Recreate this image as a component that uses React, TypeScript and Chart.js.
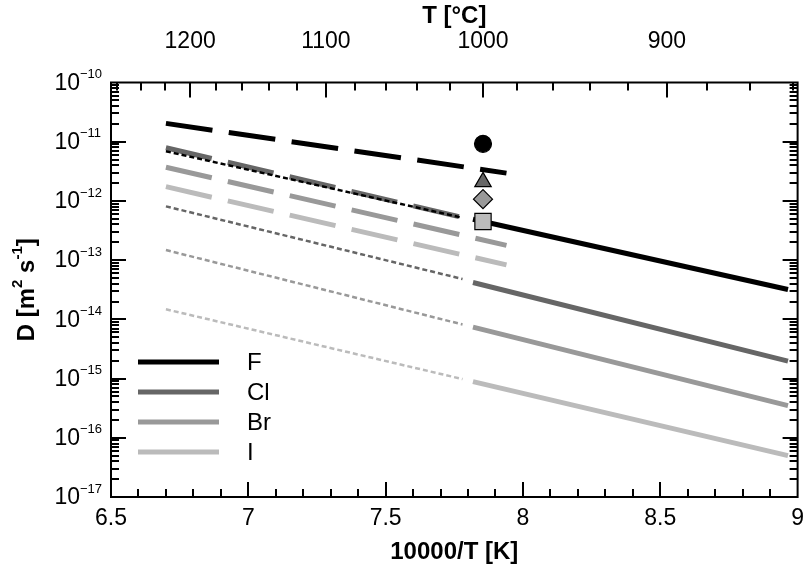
import React, { useEffect, useRef } from 'react';
import { Chart, registerables } from 'chart.js';

Chart.register(...registerables);

const FONT = "'Liberation Sans', Arial, Helvetica, sans-serif";

// Series names and colours
const elements = ['F', 'Cl', 'Br', 'I'];
const colors = ['#000000', '#666666', '#999999', '#bbbbbb'];
const markerStyles = ['circle', 'triangle', 'rectRot', 'rect'];
const markerRadii = [8.5, 9.5, 9.5, 11.5];

// Measured fits (solid)
const fitX = [7.818, 8.965];
const fitF = [4.9e-13, 3.2e-14];
const fitCl = [4.2e-14, 1.97e-15];
const fitBr = [7.4e-15, 3.5e-16];
const fitI = [8.9e-16, 5.0e-17];

// Extrapolations (dotted)
const extrapX = [6.7, 7.78];
const extrapF = [6.9e-12, 5.2e-13];
const extrapCl = [8.1e-13, 4.8e-14];
const extrapBr = [1.48e-13, 8.2e-15];
const extrapI = [1.48e-14, 9.8e-16];

// Model lines (long dashes)
const modelX = [6.7, 7.94];
const modelClX = [6.7, 7.77];
const modelF = [2.04e-11, 2.95e-12];
const modelCl = [7.9e-12, 5.4e-13];
const modelBr = [3.7e-12, 1.78e-13];
const modelI = [1.74e-12, 8.3e-14];

// Single points at 1000 °C
const pointX = 7.8545;
const pointValues = [9.2e-12, 2.1e-12, 1.07e-12, 4.5e-13];

// Tick labels
const celsiusTicks = [1200, 1100, 1000, 900];
const yExponents = [-17, -16, -15, -14, -13, -12, -11, -10];

const fits = [fitF, fitCl, fitBr, fitI];
const extraps = [extrapF, extrapCl, extrapBr, extrapI];
const models = [modelF, modelCl, modelBr, modelI];
const modelXs = [modelX, modelClX, modelX, modelX];

const toXY = (xs: number[], ys: number[]) => xs.map((x, i) => ({ x, y: ys[i] }));

const decorPlugin = {
  id: 'decor',
  afterDraw(chart: any) {
    const ctx: CanvasRenderingContext2D = chart.ctx;
    const a = chart.chartArea;
    const xs = chart.scales['x'];
    const ys = chart.scales['y'];
    const L = a.left, R = a.right, T = a.top, B = a.bottom;
    const MAJ = 15;
    const MIN = 8;
    ctx.save();
    ctx.setLineDash([]);
    ctx.lineDashOffset = 0;
    ctx.globalAlpha = 1;
    ctx.lineCap = 'butt';
    ctx.strokeStyle = '#000000';
    ctx.lineWidth = 2;

    const ticks: number[][] = [];
    // bottom ticks
    for (let i = 1; i < 25; i++) {
      const px = Math.round(xs.getPixelForValue(6.5 + i * 0.1));
      const len = i % 5 === 0 ? MAJ : MIN;
      ticks.push([px, B, px, B - len]);
    }
    // top (Celsius) ticks
    for (let c = 1260; c >= 840; c -= 20) {
      const v = 10000 / (c + 273.15);
      if (v <= 6.5 || v >= 9) continue;
      const px = Math.round(xs.getPixelForValue(v));
      const len = c % 100 === 0 ? MAJ : MIN;
      ticks.push([px, T, px, T + len]);
    }
    // left / right ticks
    for (let d = -17; d < -10; d++) {
      for (let k = 1; k <= 9; k++) {
        if (d === -17 && k === 1) continue;
        const py = Math.round(ys.getPixelForValue(k * Math.pow(10, d)));
        const len = k === 1 ? MAJ : MIN;
        ticks.push([L, py, L + len, py]);
        ticks.push([R, py, R - len, py]);
      }
    }
    ctx.beginPath();
    for (const t of ticks) {
      ctx.moveTo(t[0], t[1]);
      ctx.lineTo(t[2], t[3]);
    }
    ctx.stroke();

    // frame
    ctx.lineWidth = 2;
    ctx.strokeRect(L, T, R - L, B - T);

    // y tick labels with superscripts
    ctx.fillStyle = '#000';
    ctx.textBaseline = 'middle';
    for (const e of yExponents) {
      const py = ys.getPixelForValue(Math.pow(10, e));
      ctx.font = `23px ${FONT}`;
      ctx.textAlign = 'right';
      ctx.fillText('10', 80, py + 1);
      ctx.font = `13px ${FONT}`;
      ctx.textAlign = 'left';
      ctx.fillText('\u2212' + String(-e), 80, py - 8);
    }

    // y title
    ctx.save();
    ctx.translate(27, (T + B) / 2);
    ctx.rotate(-Math.PI / 2);
    const big = `bold 24px ${FONT}`;
    const small = `bold 15px ${FONT}`;
    const parts: [string, string, number][] = [
      ['D [m', big, 0],
      ['2', small, -9],
      [' s', big, 0],
      ['-1', small, -9],
      [']', big, 0],
    ];
    let total = 0;
    for (const [t, f] of parts) {
      ctx.font = f;
      total += ctx.measureText(t).width;
    }
    let cx = -total / 2;
    ctx.textAlign = 'left';
    ctx.textBaseline = 'middle';
    for (const [t, f, dy] of parts) {
      ctx.font = f;
      ctx.fillText(t, cx, dy);
      cx += ctx.measureText(t).width;
    }
    ctx.restore();

    // legend
    ctx.textAlign = 'left';
    ctx.textBaseline = 'middle';
    ctx.font = `24px ${FONT}`;
    elements.forEach((name, i) => {
      const ly = 362 + i * 30;
      ctx.strokeStyle = colors[i];
      ctx.lineWidth = 5;
      ctx.beginPath();
      ctx.moveTo(138, ly);
      ctx.lineTo(219, ly);
      ctx.stroke();
      ctx.fillStyle = '#000';
      ctx.fillText(name, 247, ly + 1);
    });
    ctx.restore();
  },
};

export default function App() {
  const ref = useRef<HTMLCanvasElement | null>(null);

  useEffect(() => {
    if (!ref.current) return;
    const datasets: any[] = [];
    // markers first so they are drawn on top
    elements.forEach((name, i) => {
      datasets.push({
        label: name + ' point',
        data: [{ x: pointX, y: pointValues[i] }],
        showLine: false,
        pointStyle: markerStyles[i],
        pointRadius: markerRadii[i],
        pointBackgroundColor: colors[i],
        pointBorderColor: '#000',
        pointBorderWidth: 1.2,
      });
    });
    elements.forEach((name, i) => {
      datasets.push({
        label: name,
        data: toXY(fitX, fits[i]),
        borderColor: colors[i],
        borderWidth: 5,
        pointRadius: 0,
        showLine: true,
        borderCapStyle: 'butt',
      });
    });
    elements.forEach((name, i) => {
      datasets.push({
        label: name + ' extrapolation',
        data: toXY(extrapX, extraps[i]),
        borderColor: colors[i],
        borderWidth: 2.5,
        borderDash: [5, 3],
        pointRadius: 0,
        showLine: true,
        borderCapStyle: 'butt',
      });
    });
    elements.forEach((name, i) => {
      datasets.push({
        label: name + ' model',
        data: toXY(modelXs[i], models[i]),
        borderColor: colors[i],
        borderWidth: 5,
        borderDash: [47, 16.5],
        pointRadius: 0,
        showLine: true,
        borderCapStyle: 'butt',
      });
    });

    const chart = new Chart(ref.current, {
      type: 'scatter',
      data: { datasets },
      plugins: [decorPlugin],
      options: {
        responsive: false,
        animation: false,
        events: [],
        layout: { padding: { left: 0, right: 6.5, top: 0, bottom: 0 } },
        plugins: { legend: { display: false }, tooltip: { enabled: false } },
        scales: {
          x: {
            type: 'linear',
            position: 'bottom',
            min: 6.5,
            max: 9,
            grid: { display: false, drawTicks: false },
            border: { display: false },
            ticks: {
              stepSize: 0.5,
              autoSkip: false,
              maxRotation: 0,
              padding: 8,
              color: '#000',
              font: { family: FONT, size: 23 },
              callback: (v: any) => String(Number(v.toFixed ? v.toFixed(1) : v)),
            },
            title: {
              display: true,
              text: '10000/T [K]',
              color: '#000',
              font: { family: FONT, size: 24, weight: 'bold' },
              padding: { top: 0, bottom: 1.6 },
            },
            afterFit: (s: any) => { s.height = 71; },
          },
          x2: {
            type: 'linear',
            position: 'top',
            min: 6.5,
            max: 9,
            grid: { display: false, drawTicks: false },
            border: { display: false },
            afterBuildTicks: (s: any) => {
              s.ticks = celsiusTicks.map((c) => ({ value: 10000 / (c + 273.15) }));
            },
            ticks: {
              autoSkip: false,
              maxRotation: 0,
              padding: 27,
              color: '#000',
              font: { family: FONT, size: 23 },
              callback: (v: any) => String(Math.round(10000 / v - 273.15)),
            },
            title: {
              display: true,
              text: 'T [°C]',
              color: '#000',
              font: { family: FONT, size: 24, weight: 'bold' },
              padding: { top: 2, bottom: 0 },
            },
            afterFit: (s: any) => { s.height = 82.5; },
          },
          y: {
            type: 'logarithmic',
            position: 'left',
            min: 1e-17,
            max: 1e-10,
            grid: { display: false, drawTicks: false },
            border: { display: false },
            ticks: { display: false },
            afterFit: (s: any) => { s.width = 111; },
          },
        },
      },
    });
    return () => chart.destroy();
  }, []);

  return (
    <div style={{ position: 'absolute', left: 0, top: 0, width: 812, height: 568, background: '#fff' }}>
      <canvas ref={ref} width={812} height={568} style={{ display: 'block' }} />
    </div>
  );
}
